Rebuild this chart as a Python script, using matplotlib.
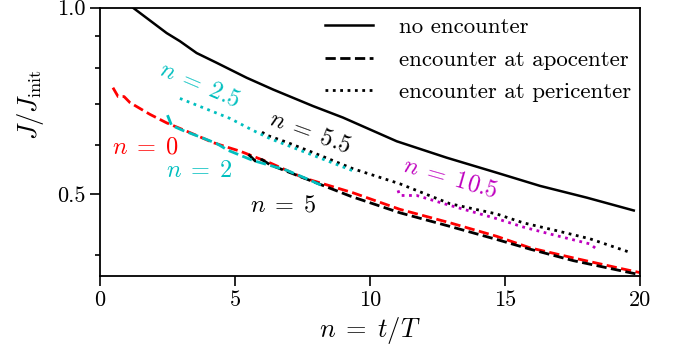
import matplotlib
matplotlib.use("Agg")
import matplotlib.pyplot as plt
from matplotlib.ticker import FixedLocator, NullFormatter

plt.rcParams["font.family"] = ["cmr10", "DejaVu Serif"]
plt.rcParams["mathtext.fontset"] = "cm"
plt.rcParams["axes.formatter.use_mathtext"] = True
plt.rcParams["font.size"] = 16

# no encounter
n_none = [1.0, 1.22, 2.47, 2.96, 3.58, 4.32, 5.43, 6.41, 7.89, 9.0, 10.99,
          12.84, 14.69, 16.30, 18.03, 19.77]
j_none = [1.03, 1.0, 0.910, 0.883, 0.845, 0.815, 0.771, 0.738, 0.694, 0.665,
          0.609, 0.573, 0.542, 0.516, 0.494, 0.471]

# encounter at apocenter, n = 0
n_apo0 = [0.48, 0.67, 0.89, 1.11, 1.85, 2.47, 3.33, 4.19, 4.81, 5.19, 6.30,
          7.52, 9.37, 11.11, 12.96, 14.69, 15.93, 17.53, 19.38, 20.0]
j_apo0 = [0.743, 0.719, 0.719, 0.703, 0.673, 0.652, 0.629, 0.606, 0.594,
          0.587, 0.562, 0.532, 0.503, 0.473, 0.450, 0.428, 0.410, 0.395,
          0.379, 0.374]

# encounter at apocenter, n = 2
n_apo2 = [2.5, 2.65, 3.07, 3.7, 4.32, 4.74, 5.67, 6.91, 7.65, 8.3]
j_apo2 = [0.671, 0.646, 0.634, 0.619, 0.604, 0.589, 0.567, 0.547, 0.530, 0.515]

# encounter at apocenter, n = 5
n_apo5 = [5.5, 5.75, 6.0, 6.3, 9.26, 11.11, 12.96, 14.69, 15.93, 17.53,
          19.37, 19.88]
j_apo5 = [0.580, 0.566, 0.569, 0.558, 0.497, 0.467, 0.444, 0.423, 0.408,
          0.391, 0.376, 0.372]

# encounter at pericenter, n = 2.5
n_peri25 = [2.96, 4.81, 5.67, 6.30, 7.41, 9.5]
j_peri25 = [0.714, 0.663, 0.634, 0.615, 0.589, 0.543]

# encounter at pericenter, n = 5.5
n_peri55 = [6.0, 6.17, 6.91, 8.15, 9.37, 11.11, 12.96, 14.69, 15.67, 16.91,
            18.15, 19.57]
j_peri55 = [0.630, 0.623, 0.607, 0.578, 0.550, 0.520, 0.483, 0.465, 0.450,
            0.437, 0.424, 0.404]

# encounter at pericenter, n = 10.5
n_peri105 = [11.04, 11.1, 11.73, 12.96, 14.69, 15.67, 16.91, 18.15, 18.46]
j_peri105 = [0.5075, 0.498, 0.498, 0.480, 0.457, 0.443, 0.429, 0.416, 0.406]

fig = plt.figure(figsize=(6.83, 3.6), dpi=100)
ax = fig.add_axes([0.1464, 0.2347, 0.7906, 0.744])

lw = 2.0
ax.plot(n_none, j_none, "k-", lw=1.8, label="no encounter")
ax.plot(n_apo0, j_apo0, "r--", lw=lw)
ax.plot(n_apo5, j_apo5, "k--", lw=lw, label="encounter at apocenter")
ax.plot(n_apo2, j_apo2, "c--", lw=lw)
ax.plot(n_peri55, j_peri55, "k:", lw=lw, label="encounter at pericenter")
ax.plot(n_peri25, j_peri25, "c:", lw=lw)
ax.plot(n_peri105, j_peri105, "m:", lw=lw)

lab = dict(ha="center", va="center", fontsize=17.5)
ax.text(1.67, 0.596, r"$n\;=\;0$", color="r", **lab)
ax.text(3.7, 0.545, r"$n\;=\;2$", color="c", **lab)
ax.text(3.7, 0.752, r"$n\;=\;2.5$", color="c", rotation=-23, **lab)
ax.text(7.78, 0.630, r"$n\;=\;5.5$", color="k", rotation=-20, **lab)
ax.text(6.78, 0.480, r"$n\;=\;5$", color="k", **lab)
ax.text(12.96, 0.531, r"$n\;=\;10.5$", color="m", rotation=-16, **lab)

ax.set_yscale("log")
ax.set_xlim(0, 20)
ax.set_ylim(0.37, 1.0)
ax.set_xticks([0, 5, 10, 15, 20])
ax.set_xticklabels(["0", "5", "10", "15", "20"])
ax.yaxis.set_major_locator(FixedLocator([0.5, 1.0]))
ax.set_yticklabels(["0.5", "1.0"])
ax.yaxis.set_minor_locator(FixedLocator([0.4, 0.6, 0.7, 0.8, 0.9]))
ax.yaxis.set_minor_formatter(NullFormatter())
ax.tick_params(which="major", direction="out", length=7, width=1.2,
               labelsize=16)
ax.tick_params(which="minor", direction="out", length=3.5, width=1.2)
for s in ax.spines.values():
    s.set_linewidth(1.3)

ax.set_xlabel(r"$n\;=\;t/T$", fontsize=19)
ax.set_ylabel(r"$J/J_{\rm init}$", fontsize=19)
ax.yaxis.set_label_coords(-0.1, 0.64)

ax.legend(loc="upper right", frameon=False, fontsize=16.5, handlelength=2.1,
          handletextpad=1.1, labelspacing=0.55, borderpad=0.2,
          borderaxespad=0.2)

fig.savefig("out.png", dpi=100)
